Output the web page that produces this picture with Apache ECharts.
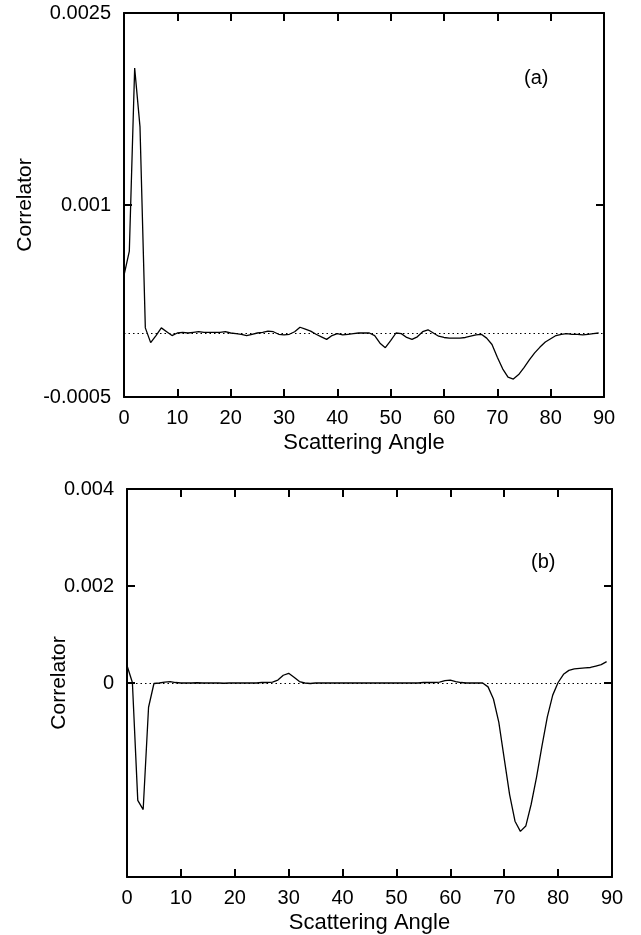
<!DOCTYPE html>
<html>
<head>
<meta charset="utf-8">
<script src="https://cdn.jsdelivr.net/npm/echarts@6/dist/echarts.min.js"></script>
<style>
html,body{margin:0;padding:0;background:#fff;}
#chart{width:641px;height:935px;}
</style>
</head>
<body>
<div id="chart"></div>
<script>
// Scattering angle (degrees)
const angles = [
  0,1,2,3,4,5,6,7,8,9,
  10,11,12,13,14,15,16,17,18,19,
  20,21,22,23,24,25,26,27,28,29,
  30,31,32,33,34,35,36,37,38,39,
  40,41,42,43,44,45,46,47,48,49,
  50,51,52,53,54,55,56,57,58,59,
  60,61,62,63,64,65,66,67,68,69,
  70,71,72,73,74,75,76,77,78,79,
  80,81,82,83,84,85,86,87,88,89
];
// Panel (a) correlator
const corrA = [
  0.00045, 0.00064, 0.00207, 0.00161, 0.00004, -0.000075, -0.00002, 0.00004, 0.00001, -0.00002,
  0, 0.000005, 0, 0.000005, 0.00001, 0.000005, 0.000005, 0.000005, 0.000005, 0.00001,
  0, -0.000005, -0.00001, -0.00002, -0.00001, 0, 0.000005, 0.000015, 0.00001, -0.00001,
  -0.000015, -0.00001, 0.00001, 0.000045, 0.00003, 0.000015, -0.00001, -0.00003, -0.00005, -0.00002,
  -0.000005, -0.000015, -0.00001, -0.000005, 0, 0, 0, -0.00002, -0.00008, -0.000115,
  -0.00006, 0, -0.000005, -0.000035, -0.00005, -0.00003, 0.00001, 0.000025, 0, -0.000025,
  -0.000035, -0.00004, -0.00004, -0.00004, -0.000035, -0.000025, -0.000015, -0.00001, -0.00004, -0.00009,
  -0.00019, -0.00028, -0.000345, -0.00036, -0.000325, -0.00027, -0.00021, -0.000155, -0.00011, -0.00007,
  -0.000045, -0.00002, -0.00001, -0.000005, -0.00001, -0.00001, -0.000015, -0.00001, -0.000005, 0
];
// Panel (b) correlator
const corrB = [
  0.00036, 0.00001, -0.00242, -0.00261, -0.0005, -0.00001, 0, 0.00002, 0.00003, 0.00001,
  0, 0, 0, 0.000005, 0, 0, 0, 0, -0.000005, 0,
  0, 0, 0, 0, 0, 0.00001, 0.00001, 0.00002, 0.00006, 0.00016,
  0.0002, 0.00012, 0.00003, 0, -0.00001, 0, 0, 0, 0, 0,
  0, 0, 0, 0, 0, 0, 0, 0, 0, 0,
  0, 0, 0, 0, 0, 0.00001, 0.00001, 0.00001, 0.00002, 0.00005,
  0.00006, 0.00003, 0.00001, 0, 0, 0, 0, -0.00008, -0.00033, -0.00081,
  -0.00156, -0.0023, -0.00285, -0.00306, -0.00295, -0.0025, -0.00194, -0.0013, -0.0007, -0.00025,
  0.00001, 0.00018, 0.00026, 0.00029, 0.0003, 0.00031, 0.00032, 0.00035, 0.00038, 0.00044
];
// Axis ticks and labels
const xTicks = [0,10,20,30,40,50,60,70,80,90];
const yTicksA = [-0.0005, 0.001, 0.0025];
const yLabelsA = ['-0.0005', '0.001', '0.0025'];
const yTickMarksB = [-0.004, 0, 0.002, 0.004];
const yTicksB = [0, 0.002, 0.004];
const yLabelsB = ['0', '0.002', '0.004'];
const panelLabels = ['(a)', '(b)'];
const xTitle = 'Scattering Angle';
const yTitle = 'Correlator';

const FONT = 'Liberation Sans, Arial, Helvetica, sans-serif';
const BLACK = '#000';

function lookup(ticks, labels) {
  return function (v) {
    for (let i = 0; i < ticks.length; i++) {
      if (Math.abs(ticks[i] - v) < 1e-9) return labels[i];
    }
    return '';
  };
}

function xAx(grid, pos, withLabels) {
  return {
    gridIndex: grid, type: 'value', position: pos, min: 0, max: 90, interval: 10,
    axisLine: { show: true, onZero: false, lineStyle: { color: BLACK, width: 2 } },
    axisTick: { show: true, inside: true, length: 8, lineStyle: { color: BLACK, width: 2 } },
    axisLabel: { show: withLabels, color: BLACK, fontSize: 20, fontFamily: FONT, margin: 11,
      customValues: xTicks, formatter: function (v) { return String(v); } },
    splitLine: { show: false },
    name: withLabels ? xTitle : '', nameLocation: 'middle', nameGap: 35, nameMoveOverlap: false,
    nameTextStyle: { color: BLACK, fontSize: 22, fontFamily: FONT }
  };
}

function yAx(grid, pos, min, max, tickVals, labelVals, labels, withLabels, gap) {
  return {
    gridIndex: grid, type: 'value', position: pos, min: min, max: max,
    axisLine: { show: true, onZero: false, lineStyle: { color: BLACK, width: 2 } },
    axisTick: { show: true, inside: true, length: 8, customValues: tickVals,
      lineStyle: { color: BLACK, width: 2 } },
    axisLabel: { show: withLabels, color: BLACK, fontSize: 20, fontFamily: FONT, margin: 13,
      customValues: labelVals, formatter: lookup(labelVals, labels) },
    splitLine: { show: false },
    name: withLabels ? yTitle : '', nameLocation: 'middle', nameRotate: 90, nameGap: gap,
    nameMoveOverlap: false,
    nameTextStyle: { color: BLACK, fontSize: 21, fontFamily: FONT }
  };
}

function series(xi, yi, vals) {
  return {
    type: 'line', xAxisIndex: xi, yAxisIndex: yi,
    data: angles.map(function (a, i) { return [a, vals[i]]; }),
    showSymbol: false, symbol: 'none', smooth: false, silent: true,
    lineStyle: { color: BLACK, width: 1.3 },
    markLine: {
      silent: true, symbol: ['none', 'none'], label: { show: false },
      lineStyle: { color: BLACK, type: [1.5, 3], width: 1.2 },
      data: [{ yAxis: 0 }], animation: false
    },
    z: 3
  };
}

const chart = echarts.init(document.getElementById('chart'), null, { renderer: 'canvas' });
chart.setOption({
  animation: false,
  backgroundColor: '#fff',
  grid: [
    { left: 124, top: 13, width: 480, height: 384, containLabel: false },
    { left: 127, top: 489, width: 485, height: 389, containLabel: false }
  ],
  xAxis: [
    xAx(0, 'bottom', true), xAx(0, 'top', false),
    xAx(1, 'bottom', true), xAx(1, 'top', false)
  ],
  yAxis: [
    yAx(0, 'left', -0.0005, 0.0025, yTicksA, yTicksA, yLabelsA, true, 88),
    yAx(0, 'right', -0.0005, 0.0025, yTicksA, yTicksA, yLabelsA, false, 0),
    yAx(1, 'left', -0.004, 0.004, yTickMarksB, yTicksB, yLabelsB, true, 57),
    yAx(1, 'right', -0.004, 0.004, yTickMarksB, yTicksB, yLabelsB, false, 0)
  ],
  series: [ series(0, 0, corrA), series(2, 2, corrB) ],
  graphic: [
    { type: 'text', left: 524, top: 68, style: { text: panelLabels[0], fill: BLACK, font: '20px ' + FONT } },
    { type: 'text', left: 531, top: 552, style: { text: panelLabels[1], fill: BLACK, font: '20px ' + FONT } }
  ]
});
</script>
</body>
</html>
